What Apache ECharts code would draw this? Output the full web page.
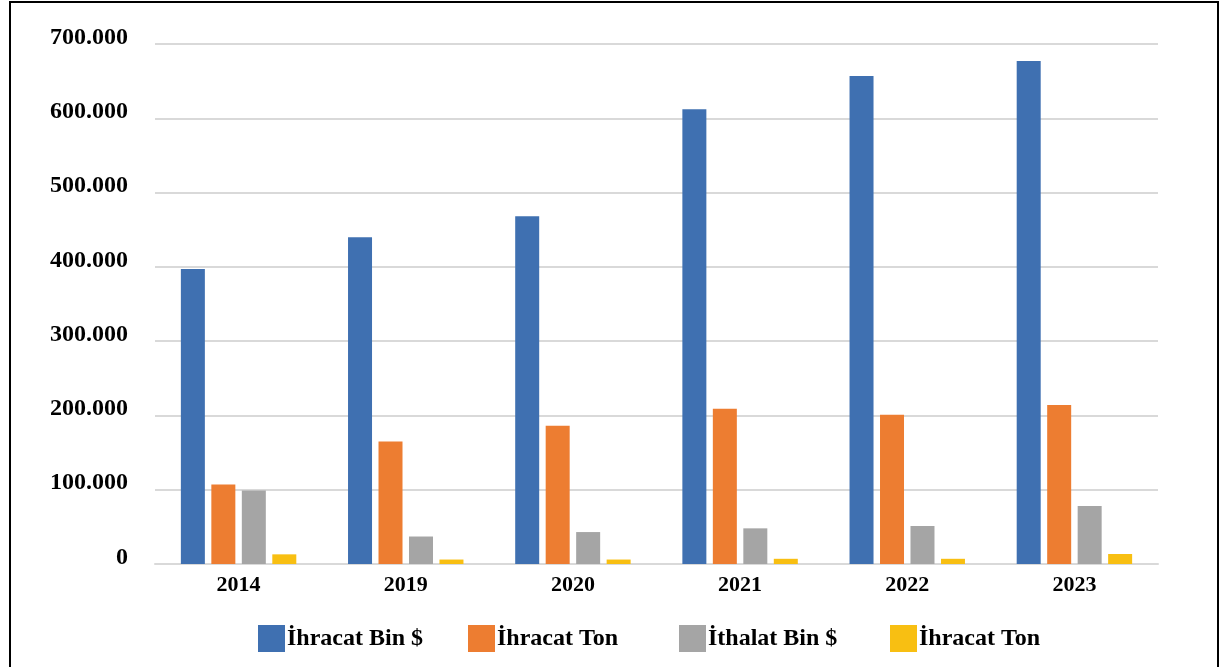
<!DOCTYPE html>
<html>
<head>
<meta charset="utf-8">
<script src="https://cdn.jsdelivr.net/npm/echarts@6/dist/echarts.min.js"></script>
<style>
html,body{margin:0;padding:0;background:#fff;}
#chart{width:1222px;height:667px;}
</style>
</head>
<body>
<div id="chart"></div>
<script>
const categories = ['2014', '2019', '2020', '2021', '2022', '2023'];
const seriesNames = ['İhracat Bin $', 'İhracat Ton', 'İthalat Bin $', 'İhracat Ton '];
const ihracatBin = [397000, 440000, 468000, 612000, 657000, 677000];
const ihracatTon = [107000, 165000, 186000, 209000, 201000, 214000];
const ithalatBin = [99000, 37000, 43000, 48000, 51000, 78000];
const ihracatTon2 = [13000, 6000, 6000, 7000, 7000, 13500];
const yTicks = { min: 0, max: 700000, interval: 100000 };
const colors = ['#3F70B1', '#ED7D31', '#A5A5A5', '#F8BF12'];

const font = 'Liberation Serif';
const chart = echarts.init(document.getElementById('chart'), null, { renderer: 'canvas' });

function fmt(v) {
  if (v === 0) return '0';
  return String(v).replace(/\B(?=(\d{3})+(?!\d))/g, '.');
}

const legendLefts = [253, 463, 674, 885];
const dataArrays = [ihracatBin, ihracatTon, ithalatBin, ihracatTon2];

const option = {
  animation: false,
  color: colors,
  grid: { left: 155, right: 64, top: 44, bottom: 103, containLabel: false },
  graphic: [{
    type: 'rect',
    shape: { x: 10, y: 2, width: 1208, height: 720 },
    style: { fill: 'none', stroke: '#000', lineWidth: 2 },
    silent: true
  }],
  legend: seriesNames.map((n, i) => ({
    data: [n],
    left: legendLefts[i],
    top: 620,
    itemWidth: 27,
    itemHeight: 27,
    icon: 'rect',
    formatter: name => name.trim(),
    textStyle: { fontFamily: font, fontWeight: 'bold', fontSize: 24, color: '#000', padding: [0, 0, 0, -3] }
  })),
  xAxis: {
    type: 'category',
    data: categories,
    axisTick: { show: false },
    axisLine: { lineStyle: { color: '#d9d9d9', width: 2 } },
    axisLabel: { fontFamily: font, fontWeight: 'bold', fontSize: 22, color: '#000', margin: 10 }
  },
  yAxis: {
    type: 'value',
    min: yTicks.min,
    max: yTicks.max,
    interval: yTicks.interval,
    axisLine: { show: false },
    axisTick: { show: false },
    splitLine: { lineStyle: { color: '#d9d9d9', width: 2 } },
    axisLabel: {
      fontFamily: font, fontWeight: 'bold', fontSize: 24, color: '#000',
      margin: 27, formatter: fmt, verticalAlign: 'bottom', lineHeight: 13
    }
  },
  series: seriesNames.map((n, i) => ({
    name: n,
    type: 'bar',
    data: dataArrays[i],
    barWidth: 24,
    barGap: '27%',
    itemStyle: { color: colors[i] }
  }))
};
chart.setOption(option);
</script>
</body>
</html>
